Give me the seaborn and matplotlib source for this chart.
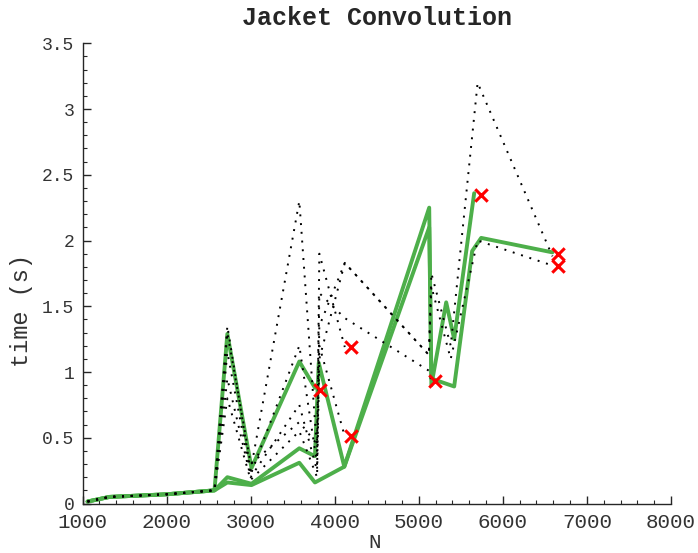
import matplotlib
matplotlib.use("Agg")
import matplotlib.pyplot as plt
from matplotlib.ticker import MultipleLocator, FuncFormatter
import pandas as pd
import seaborn as sns

# green runs (N, time)
g1_n = [1060, 1320, 2000, 2570, 2723, 3010, 3579, 3765]
g1_t = [0.015, 0.05, 0.07, 0.10, 1.29, 0.27, 1.08, 0.88]
g2_n = [1060, 1320, 2000, 2570, 2723, 3010, 3579, 3765, 3810, 4114, 5124, 5150, 5326, 5421, 5659]
g2_t = [0.015, 0.05, 0.07, 0.10, 0.20, 0.15, 0.42, 0.36, 1.07, 0.28, 2.25, 0.90, 1.53, 1.25, 2.36]
g3_n = [1060, 1320, 2000, 2570, 2723, 3010, 3579, 3765, 4114, 5124, 5150, 5421, 5635, 5742, 6590]
g3_t = [0.015, 0.05, 0.07, 0.10, 0.16, 0.14, 0.31, 0.16, 0.28, 2.10, 0.95, 0.89, 1.92, 2.02, 1.91]

# dotted black runs share the same N order
k_n = [1060, 1320, 2000, 2570, 2723, 3000, 3579, 3790, 3817, 4120, 5120, 5150, 5380, 5700, 6590]
k1_t = [0.015, 0.05, 0.07, 0.10, 1.35, 0.25, 2.30, 0.40, 1.35, 1.83, 1.13, 1.75, 1.20, 3.20, 1.88]
k2_t = [0.015, 0.05, 0.07, 0.10, 1.15, 0.22, 1.20, 0.30, 1.90, 1.19]
k3_t = [0.015, 0.05, 0.07, 0.10, 0.95, 0.20, 0.75, 0.25, 1.20, 0.51]
k4_t = [0.015, 0.05, 0.07, 0.10, 1.30, 0.30, 0.62, 0.45, 1.60, 1.41, 1.01, 0.93]
k5_t = [0.015, 0.05, 0.07, 0.10, 0.80, 0.18, 0.55, 0.20, 1.10, 1.83, 1.13, 1.65, 1.10, 2.00, 1.81]

# red crosses
fail_n = [3825, 4193, 4193, 5195, 5738, 6661, 6661]
fail_t = [0.86, 1.19, 0.51, 0.93, 2.35, 1.90, 1.81]


def to_frame(runs):
    rows = []
    for i, (n, t) in enumerate(runs):
        for a, b in zip(n, t):
            rows.append({"run": i, "N": a, "time": b})
    return pd.DataFrame(rows)


green = to_frame([(g1_n, g1_t), (g2_n, g2_t), (g3_n, g3_t)])
black = to_frame([(k_n[:len(t)], t) for t in [k1_t, k2_t, k3_t, k4_t, k5_t]])

sns.set_style("ticks")
plt.rcParams["font.family"] = ["Liberation Mono", "DejaVu Sans Mono"]

fig = plt.figure(figsize=(6.98, 5.53), dpi=100)
ax = fig.add_axes([0.1182, 0.0895, 0.9613 - 0.1182, 0.9217 - 0.0895])

sns.lineplot(data=green, x="N", y="time", units="run", estimator=None, sort=False,
             color="#4daf4a", linewidth=2.8, ax=ax, zorder=2)
sns.lineplot(data=black, x="N", y="time", units="run", estimator=None, sort=False,
             color="black", linewidth=1.4, linestyle=(0, (1, 3.5)), ax=ax, zorder=3)
sns.scatterplot(x=fail_n, y=fail_t, marker="x", color="red", s=80, linewidth=2.2,
                ax=ax, zorder=4)

ax.set_xlim(1000, 8000)
ax.set_ylim(0, 3.5)
ax.xaxis.set_major_locator(MultipleLocator(1000))
ax.xaxis.set_minor_locator(MultipleLocator(200))
ax.yaxis.set_major_locator(MultipleLocator(0.5))
ax.yaxis.set_minor_locator(MultipleLocator(0.1))
ax.yaxis.set_major_formatter(FuncFormatter(lambda v, p: "%g" % v))
ax.tick_params(which="major", direction="in", length=6, width=1,
               labelcolor="#333333")
ax.tick_params(axis="x", which="major", labelsize=15, pad=7)
ax.tick_params(axis="y", which="major", labelsize=13, pad=6)
ax.tick_params(which="minor", direction="in", length=3, width=0.8)
sns.despine(ax=ax)
for s in ["left", "bottom"]:
    ax.spines[s].set_linewidth(1.0)

ax.set_title("Jacket Convolution", fontsize=18, fontweight="bold", pad=13)
ax.set_xlabel("N", fontsize=15, color="#333333")
ax.set_ylabel("time (s)", fontsize=17, color="#333333")
ax.xaxis.set_label_coords(0.496, -0.064)
ax.yaxis.set_label_coords(-0.084, 0.42)

fig.savefig("out.png", dpi=100)
